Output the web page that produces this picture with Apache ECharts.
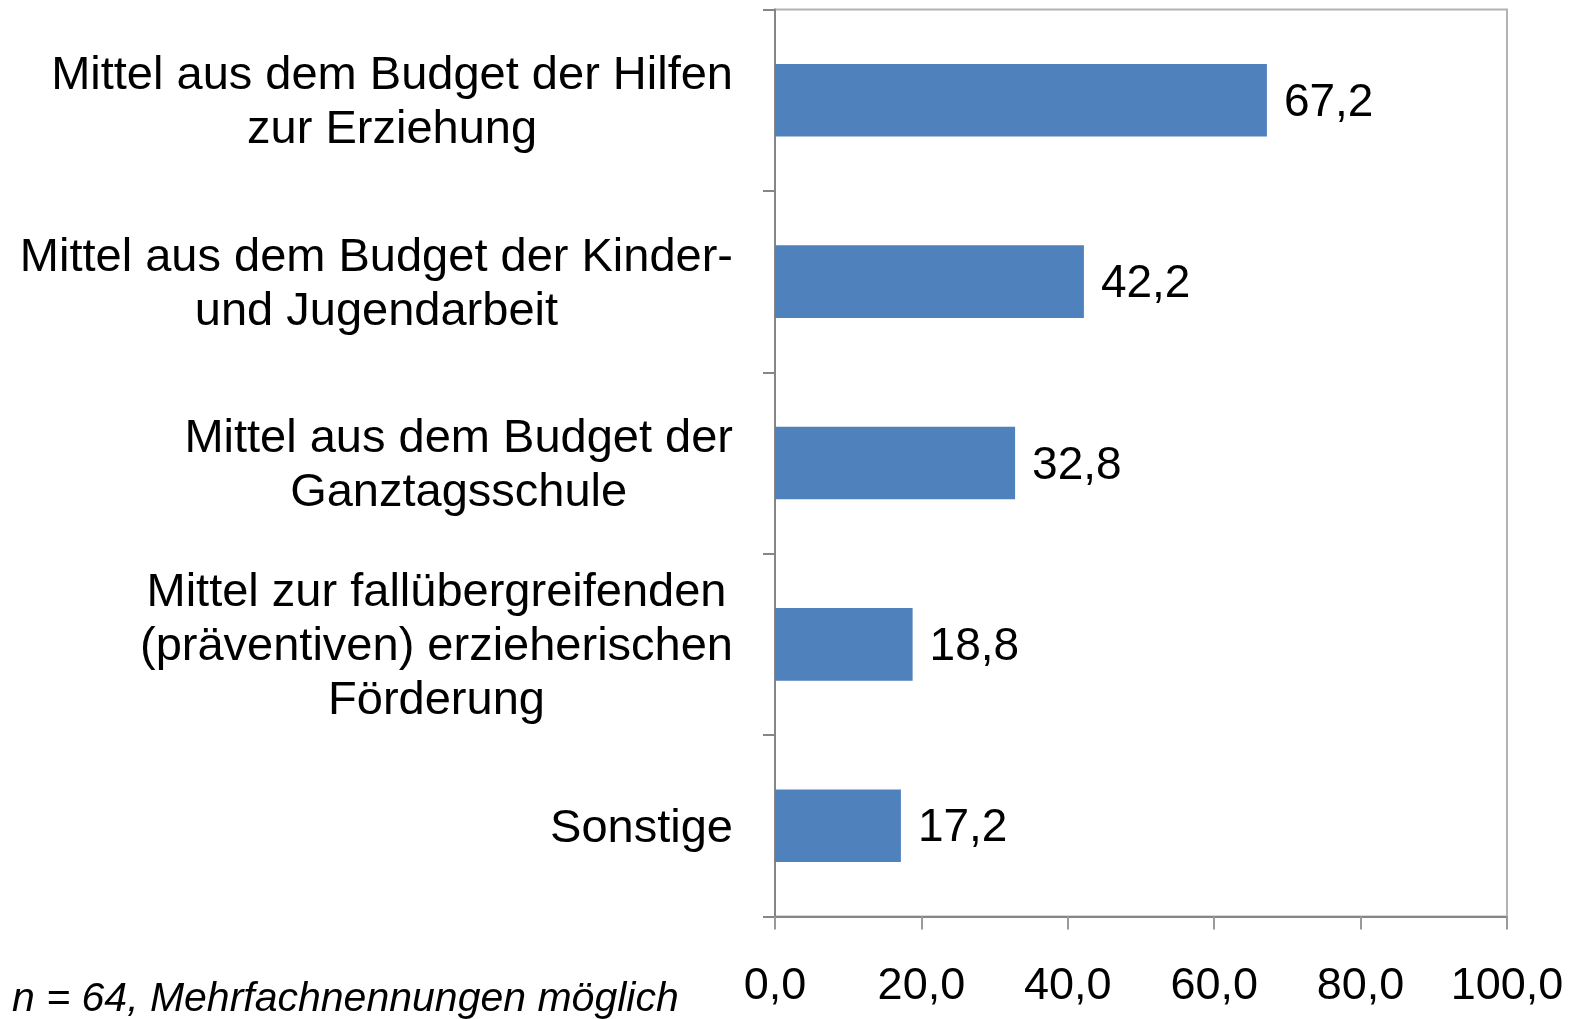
<!DOCTYPE html>
<html>
<head>
<meta charset="utf-8">
<script src="https://cdn.jsdelivr.net/npm/echarts@6/dist/echarts.min.js"></script>
<style>
  html, body { margin: 0; padding: 0; background: #fff; }
  #main { width: 1573px; height: 1019px; }
</style>
</head>
<body>
<div id="main"></div>
<script>
// Kategorien (von oben nach unten)
var categories = [
    'Mittel aus dem Budget der Hilfen\nzur Erziehung',
    'Mittel aus dem Budget der Kinder-\nund Jugendarbeit',
    'Mittel aus dem Budget der\nGanztagsschule',
    'Mittel zur fallübergreifenden\n(präventiven) erzieherischen\nFörderung',
    'Sonstige'
];
var values = [67.2, 42.2, 32.8, 18.8, 17.2];
var xTicks = [0, 20, 40, 60, 80, 100];
var footnote = 'n = 64, Mehrfachnennungen möglich';

var fontFamily = '"Liberation Sans", Arial, sans-serif';
var axisGray = '#868686';
var borderGray = '#b3b3b3';

var myChart = echarts.init(document.getElementById('main'));
var option = {
    animation: false,
    title: {
        text: footnote,
        left: 12,
        top: 977,
        padding: 0,
        textStyle: {
            fontFamily: fontFamily,
            fontStyle: 'italic',
            fontWeight: 'normal',
            fontSize: 41,
            lineHeight: 46,
            color: '#000'
        }
    },
    grid: {
        left: 775,
        right: 66,
        top: 9.5,
        bottom: 102.5,
        show: true,
        borderColor: borderGray,
        borderWidth: 2,
        containLabel: false
    },
    xAxis: {
        type: 'value',
        min: xTicks[0],
        max: xTicks[xTicks.length - 1],
        interval: 20,
        splitLine: { show: false },
        axisLine: {
            show: true,
            lineStyle: { color: axisGray, width: 2 }
        },
        axisTick: {
            show: true,
            length: 13,
            lineStyle: { color: '#9a9a9a', width: 2 }
        },
        axisLabel: {
            margin: 47,
            fontFamily: fontFamily,
            fontSize: 45,
            lineHeight: 46,
            color: '#000',
            formatter: function (v) {
                return v.toFixed(1).replace('.', ',');
            }
        }
    },
    yAxis: {
        type: 'category',
        data: categories,
        inverse: true,
        axisLine: {
            show: true,
            lineStyle: { color: axisGray, width: 2 }
        },
        axisTick: {
            show: true,
            length: 12,
            lineStyle: { color: axisGray, width: 2 }
        },
        axisLabel: {
            margin: 42,
            padding: [6, 0, 0, 0],
            fontFamily: fontFamily,
            fontSize: 47,
            color: '#000',
            // jede Zeile im Block zentriert, Block rechtsbündig an der Achse
            formatter: function (v) {
                return v.split('\n').map(function (line) {
                    return '{c|' + line + '}';
                }).join('\n');
            },
            rich: {
                c: {
                    align: 'center',
                    fontFamily: fontFamily,
                    fontSize: 47,
                    lineHeight: 54,
                    color: '#000'
                }
            }
        }
    },
    series: [{
        type: 'bar',
        data: values,
        barCategoryGap: '60%',
        itemStyle: {
            color: '#4f81bd'
        },
        label: {
            show: true,
            position: 'right',
            distance: 17,
            offset: [0, 3],
            fontFamily: fontFamily,
            fontSize: 46,
            color: '#000',
            formatter: function (p) {
                return p.value.toFixed(1).replace('.', ',');
            }
        }
    }]
};
myChart.setOption(option);
</script>
</body>
</html>
